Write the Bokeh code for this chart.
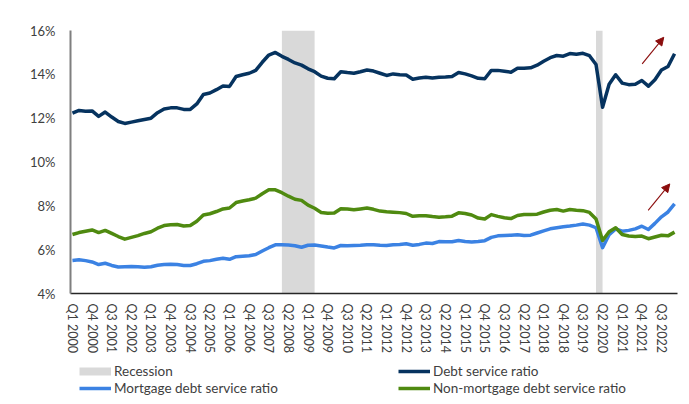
import numpy as np
from bokeh.plotting import figure
from bokeh.layouts import column
from bokeh.models import (Range1d, FixedTicker, Legend, LegendItem, Arrow, NormalHead,
                          ColumnDataSource)
from bokeh.embed import file_html
from bokeh.resources import INLINE

# ---------------- data ----------------
quarters = [f"Q{q} {y}" for y in range(2000, 2024) for q in range(1, 5)][:93]  # Q1 2000 .. Q1 2023

debt_service = [12.23, 12.35, 12.32, 12.33, 12.08, 12.28, 12.05, 11.85, 11.76, 11.82, 11.88, 11.94,
                12.0, 12.25, 12.42, 12.47, 12.47, 12.40, 12.40, 12.65, 13.08, 13.15, 13.3, 13.47,
                13.45, 13.9, 13.98, 14.05, 14.18, 14.55, 14.88, 15.0,
                14.82, 14.68, 14.52, 14.42, 14.25, 14.12, 13.92, 13.82, 13.8, 14.12, 14.08, 14.05,
                14.12, 14.2, 14.15, 14.05, 13.95, 14.02, 13.98, 13.97, 13.78, 13.83, 13.87, 13.83,
                13.87, 13.88, 13.9, 14.08, 14.02, 13.93, 13.82,
                13.8, 14.18, 14.18, 14.14, 14.1, 14.28, 14.28, 14.3, 14.42, 14.6, 14.76, 14.86,
                14.83, 14.95, 14.92, 14.96, 14.85, 14.45, 12.5, 13.55, 13.98, 13.6, 13.53, 13.55,
                13.72, 13.46, 13.75, 14.2, 14.36, 14.94]

mortgage = [5.51, 5.54, 5.5, 5.44, 5.32, 5.38, 5.28, 5.21, 5.22, 5.23, 5.22, 5.2,
            5.22, 5.29, 5.32, 5.33, 5.32, 5.28, 5.28, 5.36, 5.47, 5.5, 5.56, 5.61,
            5.56, 5.68, 5.7, 5.72, 5.78, 5.94, 6.09, 6.22,
            6.22, 6.21, 6.18, 6.11, 6.2, 6.21, 6.17, 6.12, 6.08, 6.19, 6.18, 6.19,
            6.2, 6.22, 6.22, 6.2, 6.19, 6.22, 6.24, 6.27, 6.2, 6.24, 6.3, 6.28,
            6.37, 6.36, 6.36, 6.42, 6.37, 6.35, 6.37,
            6.41, 6.56, 6.63, 6.65, 6.66, 6.68, 6.65, 6.66, 6.76, 6.86, 6.95, 7.0,
            7.05, 7.08, 7.12, 7.17, 7.12, 7.0, 6.09, 6.68, 6.95, 6.84, 6.88, 6.95,
            7.07, 6.92, 7.2, 7.5, 7.72, 8.09]

non_mortgage = [6.69, 6.78, 6.84, 6.90, 6.78, 6.88, 6.74, 6.60, 6.48, 6.56, 6.64, 6.74,
                6.82, 6.98, 7.1, 7.14, 7.15, 7.08, 7.1, 7.3, 7.58, 7.64, 7.74, 7.86,
                7.9, 8.15, 8.22, 8.28, 8.35, 8.55, 8.73, 8.73,
                8.6, 8.44, 8.30, 8.25, 8.03, 7.89, 7.7, 7.66, 7.67, 7.87, 7.86, 7.82,
                7.86, 7.9, 7.84, 7.76, 7.73, 7.71, 7.69, 7.65, 7.52, 7.55, 7.55, 7.51,
                7.48, 7.5, 7.53, 7.68, 7.65, 7.58, 7.44,
                7.40, 7.6, 7.52, 7.46, 7.42, 7.56, 7.6, 7.61, 7.62, 7.72, 7.8, 7.83,
                7.76, 7.83, 7.8, 7.78, 7.7, 7.4, 6.42, 6.82, 7.0, 6.69, 6.62, 6.60,
                6.62, 6.5, 6.58, 6.66, 6.63, 6.80]

recession_start = ["Q1 2008", "Q1 2020"]
recession_end = ["Q2 2009", "Q2 2020"]

y_ticks = [4, 6, 8, 10, 12, 14, 16]
y_tick_labels = ["4%", "6%", "8%", "10%", "12%", "14%", "16%"]
x_tick_step = 3

# ---------------- styling ----------------
FONT = "Lato"
TXT = "#404040"
NAVY = "#06335f"
BLUE = "#3b82e3"
GREEN = "#4f8a10"
GRAY = "#d9d9d9"
ARROW = "#8b0d0d"

idx = list(range(len(quarters)))

# ---------------- main chart ----------------
p = figure(width=681, height=355, output_backend="svg", toolbar_location=None,
           x_range=Range1d(-0.3, 92.45), y_range=Range1d(4, 16),
           min_border_left=70, min_border_right=4, min_border_top=30, min_border_bottom=62)
p.outline_line_color = None
p.xgrid.grid_line_color = None
p.ygrid.grid_line_color = None
p.background_fill_color = "white"
p.border_fill_color = "white"

rs = ColumnDataSource(dict(
    left=[quarters.index(q) for q in recession_start],
    right=[quarters.index(q) for q in recession_end],
    bottom=[y_ticks[0]] * len(recession_start),
    top=[y_ticks[-1]] * len(recession_start),
))
p.quad(left="left", right="right", bottom="bottom", top="top", source=rs,
       fill_color=GRAY, line_color=None)

p.line(idx, debt_service, line_color=NAVY, line_width=3.5, line_join="round")
p.line(idx, mortgage, line_color=BLUE, line_width=3.5, line_join="round")
p.line(idx, non_mortgage, line_color=GREEN, line_width=3.5, line_join="round")

for (x0, y0, x1, y1) in [(87.05, 14.48, 90.35, 15.69), (87.97, 7.79, 91.27, 9.0)]:
    p.add_layout(Arrow(end=NormalHead(size=8, fill_color=ARROW, line_color=ARROW),
                       x_start=x0, y_start=y0, x_end=x1, y_end=y1,
                       line_color=ARROW, line_width=1.1))

xa = p.xaxis[0]
xa.ticker = FixedTicker(ticks=idx[::x_tick_step])
xa.major_label_overrides = {i: quarters[i] for i in idx[::x_tick_step]}
xa.major_label_orientation = "vertical"
xa.major_tick_line_color = None
xa.minor_tick_line_color = None
xa.major_tick_in = 0
xa.major_tick_out = 0
xa.major_label_standoff = 10
xa.axis_line_color = "#262626"
xa.axis_line_width = 1.5
xa.major_label_text_font = FONT
xa.major_label_text_font_size = "12.5px"
xa.major_label_text_color = TXT

ya = p.yaxis[0]
ya.ticker = FixedTicker(ticks=y_ticks)
ya.major_label_overrides = dict(zip(y_ticks, y_tick_labels))
ya.major_tick_line_color = None
ya.minor_tick_line_color = None
ya.major_tick_in = 0
ya.major_tick_out = 0
ya.major_label_standoff = 15
ya.axis_line_color = "#7f7f7f"
ya.axis_line_width = 2
ya.major_label_text_font = FONT
ya.major_label_text_font_size = "13px"
ya.major_label_text_color = TXT

# ---------------- legend strip (frame aligned with main chart's frame) ----------------
lg = figure(width=681, height=45, output_backend="svg", toolbar_location=None,
            x_range=Range1d(0, 1), y_range=Range1d(0, 1),
            x_axis_type=None, y_axis_type=None,
            min_border_left=0, min_border_right=0, min_border_top=0, min_border_bottom=0)
lg.outline_line_color = None
lg.xgrid.grid_line_color = None
lg.ygrid.grid_line_color = None
lg.border_fill_color = "white"

nan2 = np.array([np.nan, np.nan])
k_rec = lg.line(nan2, nan2, line_color=GRAY, line_width=8)
k_debt = lg.line(nan2, nan2, line_color=NAVY, line_width=3.5)
k_mort = lg.line(nan2, nan2, line_color=BLUE, line_width=3.5)
k_non = lg.line(nan2, nan2, line_color=GREEN, line_width=3.5)


def add_legend(items, x):
    leg = Legend(items=items, location=(x, 4), orientation="vertical",
                 label_text_font=FONT, label_text_font_size="13.5px", label_text_color=TXT,
                 glyph_width=32, glyph_height=16, label_height=16, spacing=1,
                 label_standoff=3, padding=0, margin=0,
                 border_line_color=None, background_fill_alpha=0)
    lg.add_layout(leg, "center")


add_legend([LegendItem(label="Recession", renderers=[k_rec]),
            LegendItem(label="Mortgage debt service ratio", renderers=[k_mort])], 9)
add_legend([LegendItem(label="Debt service ratio", renderers=[k_debt]),
            LegendItem(label="Non-mortgage debt service ratio", renderers=[k_non])], 328)

layout = column(p, lg, spacing=0)
open("out.html", "w").write(file_html(layout, INLINE))
